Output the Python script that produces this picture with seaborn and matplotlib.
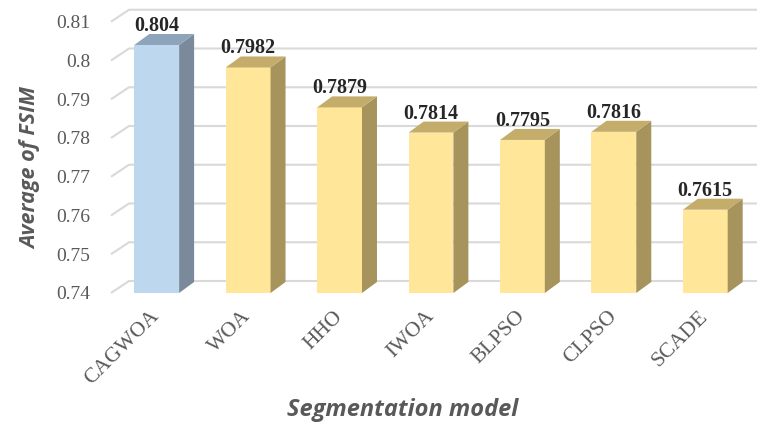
import matplotlib
matplotlib.use("Agg")
import matplotlib.pyplot as plt
from matplotlib.patches import Polygon
import numpy as np
import pandas as pd
import seaborn as sns

# Average FSIM per segmentation model
models = ["CAGWOA", "WOA", "HHO", "IWOA", "BLPSO", "CLPSO", "SCADE"]
fsim = [0.804, 0.7982, 0.7879, 0.7814, 0.7795, 0.7816, 0.7615]
value_labels = ["0.804", "0.7982", "0.7879", "0.7814", "0.7795", "0.7816", "0.7615"]
y_ticks = [0.74, 0.75, 0.76, 0.77, 0.78, 0.79, 0.80, 0.81]
y_tick_labels = ["0.74", "0.75", "0.76", "0.77", "0.78", "0.79", "0.8", "0.81"]

# face / side / top shades for the pseudo-3D columns
front_colors = ["#BDD7EE"] + ["#FFE699"] * 6
side_colors = ["#7A8A9B"] + ["#A6945C"] * 6
top_colors = ["#8EA4BA"] + ["#C4AD6B"] * 6

sns.set_theme(style="white")
plt.rcParams["font.family"] = ["Liberation Serif", "DejaVu Serif"]

W, H = 757, 433
fig = plt.figure(figsize=(W / 100, H / 100), dpi=100)
ax = fig.add_axes([111 / W, (H - 293) / H, 640 / W, 271.25 / H])

df = pd.DataFrame({"model": models, "fsim": fsim})
sns.barplot(data=df, x="model", y="fsim", hue="model", palette=front_colors,
            legend=False, width=0.49, saturation=1, ax=ax, zorder=3, linewidth=0)

ymin, ymax = 0.74, 0.81
ax.set_xlim(-0.5, len(models) - 0.5)
ax.set_ylim(ymin, ymax)

# pixel -> data conversions for the depth offsets
px_x = 640 / len(models)
px_y = 271.25 / (ymax - ymin)
bar_dx, bar_dy = 15 / px_x, 11 / px_y
wall_dx, wall_dy = 18 / px_x, 12 / px_y

# back-wall gridlines with the short floor diagonal on the left
for t in y_ticks:
    ax.plot([-0.5, -0.5 + wall_dx, len(models) + 1], [t, t + wall_dy, t + wall_dy],
            color="#D9D9D9", lw=1.5, zorder=0, clip_on=False, solid_capstyle="butt")

# side and top faces of each column
for i, p in enumerate(ax.patches[:len(models)]):
    x0 = p.get_x()
    x1 = x0 + p.get_width()
    v = fsim[i]
    side = Polygon([(x1, ymin), (x1 + bar_dx, ymin + bar_dy), (x1 + bar_dx, v + bar_dy), (x1, v)],
                   closed=True, facecolor=side_colors[i], edgecolor="none", zorder=3, clip_on=False)
    top = Polygon([(x0, v), (x1, v), (x1 + bar_dx, v + bar_dy), (x0 + bar_dx, v + bar_dy)],
                  closed=True, facecolor=top_colors[i], edgecolor="none", zorder=3, clip_on=False)
    ax.add_patch(side)
    ax.add_patch(top)
    ax.text(x0 + p.get_width() / 2, v + bar_dy + 3 / px_y, value_labels[i],
            ha="center", va="baseline", fontsize=14.5, fontweight="bold",
            color="#262626", zorder=5)

for s in ax.spines.values():
    s.set_visible(False)

ax.set_yticks(y_ticks)
ax.set_yticklabels(y_tick_labels)
ax.tick_params(axis="y", length=0, pad=15, labelsize=14, labelcolor="#595959")
ax.tick_params(axis="x", length=0, pad=15, labelsize=15.5, labelcolor="#595959")
for lab in ax.get_xticklabels():
    lab.set_rotation(45)
    lab.set_ha("right")
    lab.set_va("center")
    lab.set_rotation_mode("anchor")

ax.set_xlabel("")
ax.set_ylabel("")
fig.text(403 / W, 1 - 410 / H, "Segmentation model", ha="center", va="center",
         fontsize=17, fontweight="bold", fontstyle="italic", color="#595959",
         family=["Open Sans", "DejaVu Sans"])
fig.text(31 / W, 1 - 168 / H, "Average of FSIM", ha="center", va="center", rotation=90,
         fontsize=15.5, fontweight="bold", fontstyle="italic", color="#595959",
         family=["Open Sans", "DejaVu Sans"])

fig.savefig("out.png", dpi=100, facecolor="white")
